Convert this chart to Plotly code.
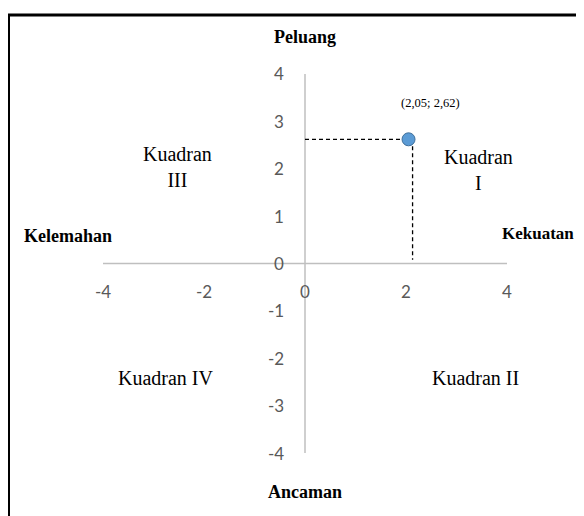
import plotly.graph_objects as go

# ---- data ----
x_ticks = [-4, -2, 0, 2, 4]
y_ticks = [-4, -3, -2, -1, 0, 1, 2, 3, 4]
point_x = [2.05]
point_y = [2.62]
point_label = "(2,05; 2,62)"
quadrant_labels = ["Kuadran<br>I", "Kuadran II", "Kuadran<br>III", "Kuadran IV"]
quadrant_pos_x = [3.43, 3.38, -2.53, -2.75]
quadrant_pos_y = [1.97, -2.42, 2.04, -2.42]
axis_titles = {"top": "Peluang", "bottom": "Ancaman", "left": "Kelemahan", "right": "Kekuatan"}

OFF = 8                  # page body margin in the browser
W, H = 584 - OFF, 516 - OFF
X0, SX = 305.0 - OFF, 50.5     # figure pixel of x=0, px per unit
Y0, SY = 263.5 - OFF, 47.4     # figure pixel of y=0, px per unit
xr = [(0 - X0) / SX, (W - X0) / SX]
yr = [(Y0 - H) / SY, (Y0 - 0) / SY]

def px2x(p):  # window pixel -> data x
    return (p - OFF - X0) / SX

def py2y(p):  # window pixel -> data y
    return (Y0 - (p - OFF)) / SY

fig = go.Figure()

axis_col = "#BFBFBF"
fig.add_trace(go.Scatter(x=[min(x_ticks), max(x_ticks)], y=[0, 0], mode="lines",
                         line=dict(color=axis_col, width=1.5), hoverinfo="skip", showlegend=False))
fig.add_trace(go.Scatter(x=[0, 0], y=[min(y_ticks), max(y_ticks)], mode="lines",
                         line=dict(color=axis_col, width=1.5), hoverinfo="skip", showlegend=False))

# dashed guide lines
fig.add_trace(go.Scatter(x=[0, point_x[0]], y=[point_y[0], point_y[0]], mode="lines",
                         line=dict(color="black", width=1.3, dash="4px,3px"), hoverinfo="skip", showlegend=False))
fig.add_trace(go.Scatter(x=[point_x[0] + 0.08, point_x[0] + 0.08], y=[point_y[0], 0.08], mode="lines",
                         line=dict(color="black", width=1.3, dash="4px,3px"), hoverinfo="skip", showlegend=False))

# point
fig.add_trace(go.Scatter(x=point_x, y=point_y, mode="markers",
                         marker=dict(size=13, color="#5B9BD5", line=dict(color="#41719C", width=1)),
                         showlegend=False))

ann = []
num_font = dict(family="Lato, 'Open Sans', sans-serif", size=17, color="#595959")
for t in y_ticks:
    ann.append(dict(x=0, y=t, xref="x", yref="y", text=str(t), showarrow=False,
                    xanchor="right", yanchor="middle", xshift=-19, font=num_font))
for t in x_ticks:
    ann.append(dict(x=t, y=0, xref="x", yref="y", text=str(t), showarrow=False,
                    xanchor="center", yanchor="middle", yshift=-28, font=num_font))

serif = "'Liberation Serif', 'Times New Roman', serif"
for txt, qx, qy in zip(quadrant_labels, quadrant_pos_x, quadrant_pos_y):
    ann.append(dict(x=qx, y=qy, xref="x", yref="y", text=txt, showarrow=False,
                    xanchor="center", yanchor="middle",
                    font=dict(family=serif, size=20, color="black")))

ann.append(dict(x=point_x[0], y=point_y[0], xref="x", yref="y", text=point_label, showarrow=False,
                xanchor="center", yanchor="middle", xshift=22, yshift=36,
                font=dict(family=serif, size=12.5, color="black")))

bold = dict(family=serif, size=18, color="black")
ann.append(dict(x=px2x(305), y=py2y(37), xref="x", yref="y", text="<b>%s</b>" % axis_titles["top"],
                showarrow=False, xanchor="center", yanchor="middle", font=bold))
ann.append(dict(x=px2x(305), y=py2y(492), xref="x", yref="y", text="<b>%s</b>" % axis_titles["bottom"],
                showarrow=False, xanchor="center", yanchor="middle", font=bold))
ann.append(dict(x=px2x(22), y=py2y(236), xref="x", yref="y", text="<b>%s</b>" % axis_titles["left"],
                showarrow=False, xanchor="left", yanchor="middle", font=bold))
ann.append(dict(x=px2x(500), y=py2y(233), xref="x", yref="y", text="<b>%s</b>" % axis_titles["right"],
                showarrow=False, xanchor="left", yanchor="middle",
                font=dict(family=serif, size=17, color="black")))

# outer frame (cut at right and bottom edges of the window)
shapes = [dict(type="rect", xref="paper", yref="paper",
               x0=(8.5 - OFF) / W, x1=1.05, y0=-0.05, y1=1 - (15 - OFF) / H,
               line=dict(color="black", width=3), fillcolor="rgba(0,0,0,0)", layer="above")]

fig.update_layout(
    width=W, height=H,
    margin=dict(l=0, r=0, t=0, b=0),
    paper_bgcolor="white", plot_bgcolor="white",
    xaxis=dict(range=xr, visible=False, fixedrange=True),
    yaxis=dict(range=yr, visible=False, fixedrange=True),
    annotations=ann, shapes=shapes, showlegend=False,
)

fig.write_html("out.html")
